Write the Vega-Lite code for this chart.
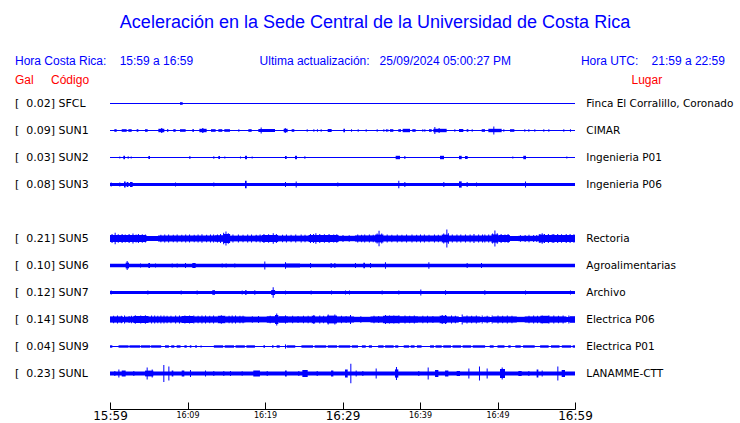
{
  "$schema": "https://vega.github.io/schema/vega-lite/v6.json",
  "width": 465,
  "height": 297,
  "autosize": {"type": "none"},
  "padding": {"left": 110, "top": 90, "right": 165, "bottom": 36},
  "background": "white",
  "config": {"view": {"stroke": null}, "font": "DejaVu Sans"},
  "title": {
    "text": "Aceleración en la Sede Central de la Universidad de Costa Rica",
    "font": "Liberation Sans",
    "fontSize": 18,
    "fontWeight": "normal",
    "color": "#0000ff",
    "anchor": "middle",
    "frame": "group",
    "dx": 32.5,
    "baseline": "alphabetic",
    "offset": 9
  },
  "datasets": {
    "stations": [
      {"sta": "SFCL", "peak": 0.02, "lugar": "Finca El Corralillo, Coronado"},
      {"sta": "SUN1", "peak": 0.09, "lugar": "CIMAR"},
      {"sta": "SUN2", "peak": 0.03, "lugar": "Ingenieria P01"},
      {"sta": "SUN3", "peak": 0.08, "lugar": "Ingenieria P06"},
      {"sta": "SUN5", "peak": 0.21, "lugar": "Rectoria"},
      {"sta": "SUN6", "peak": 0.10, "lugar": "Agroalimentarias"},
      {"sta": "SUN7", "peak": 0.12, "lugar": "Archivo"},
      {"sta": "SUN8", "peak": 0.14, "lugar": "Electrica P06"},
      {"sta": "SUN9", "peak": 0.04, "lugar": "Electrica P01"},
      {"sta": "SUNL", "peak": 0.23, "lugar": "LANAMME-CTT"}
    ],
    "env": [
      {"sta": "SFCL", "start": 0, "end": 60, "amp": 0},
      {"sta": "SFCL", "start": 9.03, "end": 9.38, "amp": 0.02},

      {"sta": "SUN1", "start": 0, "end": 60, "amp": 0},
      {"sta": "SUN1", "start": 0.56, "end": 0.86, "amp": 0.02},
      {"sta": "SUN1", "start": 1.51, "end": 2.15, "amp": 0.02},
      {"sta": "SUN1", "start": 2.37, "end": 2.80, "amp": 0.02},
      {"sta": "SUN1", "start": 3.44, "end": 3.66, "amp": 0.02},
      {"sta": "SUN1", "start": 4.52, "end": 4.86, "amp": 0.02},
      {"sta": "SUN1", "start": 6.24, "end": 7.01, "amp": 0.03},
      {"sta": "SUN1", "start": 6.6, "end": 6.75, "amp": 0.05},
      {"sta": "SUN1", "start": 7.35, "end": 7.53, "amp": 0.02},
      {"sta": "SUN1", "start": 8.17, "end": 8.47, "amp": 0.02},
      {"sta": "SUN1", "start": 9.03, "end": 9.76, "amp": 0.02},
      {"sta": "SUN1", "start": 10.62, "end": 10.84, "amp": 0.02},
      {"sta": "SUN1", "start": 11.53, "end": 12.47, "amp": 0.03},
      {"sta": "SUN1", "start": 11.9, "end": 12.05, "amp": 0.05},
      {"sta": "SUN1", "start": 13.03, "end": 13.63, "amp": 0.02},
      {"sta": "SUN1", "start": 13.98, "end": 14.49, "amp": 0.02},
      {"sta": "SUN1", "start": 14.75, "end": 15.48, "amp": 0.02},
      {"sta": "SUN1", "start": 16.56, "end": 16.69, "amp": 0.02},
      {"sta": "SUN1", "start": 17.85, "end": 18.28, "amp": 0.02},
      {"sta": "SUN1", "start": 19.14, "end": 21.29, "amp": 0.025},
      {"sta": "SUN1", "start": 19.44, "end": 19.57, "amp": 0.06},
      {"sta": "SUN1", "start": 22.41, "end": 22.92, "amp": 0.03},
      {"sta": "SUN1", "start": 22.55, "end": 22.68, "amp": 0.05},
      {"sta": "SUN1", "start": 23.44, "end": 23.78, "amp": 0.02},
      {"sta": "SUN1", "start": 25.38, "end": 25.51, "amp": 0.02},
      {"sta": "SUN1", "start": 26.24, "end": 26.37, "amp": 0.02},
      {"sta": "SUN1", "start": 26.7, "end": 26.83, "amp": 0.02},
      {"sta": "SUN1", "start": 27.18, "end": 27.31, "amp": 0.02},
      {"sta": "SUN1", "start": 28.09, "end": 28.60, "amp": 0.025},
      {"sta": "SUN1", "start": 30.11, "end": 30.32, "amp": 0.03},
      {"sta": "SUN1", "start": 31.10, "end": 31.23, "amp": 0.02},
      {"sta": "SUN1", "start": 31.96, "end": 32.09, "amp": 0.02},
      {"sta": "SUN1", "start": 32.99, "end": 33.12, "amp": 0.02},
      {"sta": "SUN1", "start": 34.41, "end": 34.54, "amp": 0.02},
      {"sta": "SUN1", "start": 35.27, "end": 35.40, "amp": 0.02},
      {"sta": "SUN1", "start": 35.6, "end": 35.73, "amp": 0.02},
      {"sta": "SUN1", "start": 35.78, "end": 35.91, "amp": 0.02},
      {"sta": "SUN1", "start": 36.13, "end": 36.56, "amp": 0.02},
      {"sta": "SUN1", "start": 37.20, "end": 37.55, "amp": 0.02},
      {"sta": "SUN1", "start": 37.76, "end": 38.71, "amp": 0.03},
      {"sta": "SUN1", "start": 39.01, "end": 39.44, "amp": 0.02},
      {"sta": "SUN1", "start": 40.30, "end": 40.43, "amp": 0.02},
      {"sta": "SUN1", "start": 40.56, "end": 40.69, "amp": 0.02},
      {"sta": "SUN1", "start": 41.16, "end": 41.51, "amp": 0.02},
      {"sta": "SUN1", "start": 41.72, "end": 43.44, "amp": 0.03},
      {"sta": "SUN1", "start": 41.85, "end": 41.98, "amp": 0.075},
      {"sta": "SUN1", "start": 42.4, "end": 42.53, "amp": 0.05},
      {"sta": "SUN1", "start": 44.43, "end": 44.56, "amp": 0.02},
      {"sta": "SUN1", "start": 45.03, "end": 45.59, "amp": 0.025},
      {"sta": "SUN1", "start": 46.02, "end": 46.24, "amp": 0.02},
      {"sta": "SUN1", "start": 46.67, "end": 46.80, "amp": 0.02},
      {"sta": "SUN1", "start": 47.96, "end": 48.39, "amp": 0.02},
      {"sta": "SUN1", "start": 48.82, "end": 50.54, "amp": 0.03},
      {"sta": "SUN1", "start": 49.46, "end": 49.59, "amp": 0.09},
      {"sta": "SUN1", "start": 50.75, "end": 50.88, "amp": 0.02},
      {"sta": "SUN1", "start": 51.61, "end": 52.17, "amp": 0.02},
      {"sta": "SUN1", "start": 53.46, "end": 53.59, "amp": 0.02},
      {"sta": "SUN1", "start": 53.98, "end": 54.11, "amp": 0.02},
      {"sta": "SUN1", "start": 54.75, "end": 54.88, "amp": 0.02},
      {"sta": "SUN1", "start": 55.91, "end": 56.04, "amp": 0.02},
      {"sta": "SUN1", "start": 56.56, "end": 56.69, "amp": 0.02},
      {"sta": "SUN1", "start": 58.49, "end": 58.62, "amp": 0.02},
      {"sta": "SUN1", "start": 59.35, "end": 59.48, "amp": 0.02},

      {"sta": "SUN2", "start": 0, "end": 60, "amp": 0},
      {"sta": "SUN2", "start": 1.20, "end": 1.33, "amp": 0.015},
      {"sta": "SUN2", "start": 1.72, "end": 1.94, "amp": 0.03},
      {"sta": "SUN2", "start": 2.28, "end": 2.41, "amp": 0.02},
      {"sta": "SUN2", "start": 2.67, "end": 2.80, "amp": 0.015},
      {"sta": "SUN2", "start": 4.95, "end": 5.16, "amp": 0.025},
      {"sta": "SUN2", "start": 10.24, "end": 10.37, "amp": 0.025},
      {"sta": "SUN2", "start": 13.33, "end": 13.46, "amp": 0.02},
      {"sta": "SUN2", "start": 13.98, "end": 14.19, "amp": 0.025},
      {"sta": "SUN2", "start": 14.75, "end": 14.88, "amp": 0.015},
      {"sta": "SUN2", "start": 16.77, "end": 16.90, "amp": 0.015},
      {"sta": "SUN2", "start": 17.42, "end": 17.68, "amp": 0.03},
      {"sta": "SUN2", "start": 18.28, "end": 18.41, "amp": 0.015},
      {"sta": "SUN2", "start": 22.58, "end": 22.80, "amp": 0.025},
      {"sta": "SUN2", "start": 23.87, "end": 24.13, "amp": 0.03},
      {"sta": "SUN2", "start": 25.08, "end": 25.21, "amp": 0.02},
      {"sta": "SUN2", "start": 36.86, "end": 37.42, "amp": 0.03},
      {"sta": "SUN2", "start": 37.98, "end": 38.11, "amp": 0.025},
      {"sta": "SUN2", "start": 42.58, "end": 43.10, "amp": 0.03},
      {"sta": "SUN2", "start": 45.03, "end": 45.38, "amp": 0.03},
      {"sta": "SUN2", "start": 45.81, "end": 46.15, "amp": 0.025},
      {"sta": "SUN2", "start": 51.91, "end": 52.04, "amp": 0.015},
      {"sta": "SUN2", "start": 53.33, "end": 53.68, "amp": 0.03},
      {"sta": "SUN2", "start": 58.88, "end": 59.01, "amp": 0.015},

      {"sta": "SUN3", "start": 0, "end": 60, "amp": 0.025},
      {"sta": "SUN3", "start": 0.09, "end": 0.22, "amp": 0.04},
      {"sta": "SUN3", "start": 1.20, "end": 1.33, "amp": 0.04},
      {"sta": "SUN3", "start": 1.81, "end": 2.02, "amp": 0.065},
      {"sta": "SUN3", "start": 2.15, "end": 2.37, "amp": 0.05},
      {"sta": "SUN3", "start": 2.58, "end": 2.92, "amp": 0.05},
      {"sta": "SUN3", "start": 8.39, "end": 8.52, "amp": 0.04},
      {"sta": "SUN3", "start": 13.33, "end": 13.46, "amp": 0.04},
      {"sta": "SUN3", "start": 17.42, "end": 17.63, "amp": 0.08},
      {"sta": "SUN3", "start": 22.58, "end": 22.71, "amp": 0.05},
      {"sta": "SUN3", "start": 23.96, "end": 24.09, "amp": 0.065},
      {"sta": "SUN3", "start": 29.33, "end": 29.46, "amp": 0.04},
      {"sta": "SUN3", "start": 37.20, "end": 37.33, "amp": 0.08},
      {"sta": "SUN3", "start": 37.98, "end": 38.11, "amp": 0.05},
      {"sta": "SUN3", "start": 43.01, "end": 43.14, "amp": 0.05},
      {"sta": "SUN3", "start": 45.03, "end": 45.38, "amp": 0.065},
      {"sta": "SUN3", "start": 46.02, "end": 46.15, "amp": 0.05},
      {"sta": "SUN3", "start": 47.23, "end": 47.36, "amp": 0.04},
      {"sta": "SUN3", "start": 53.55, "end": 53.68, "amp": 0.065},

      {"sta": "SUN5", "start": 0, "end": 60, "amp": 0.05},
      {"sta": "SUN5", "start": 0, "end": 4.7, "amp": 0.075},
      {"sta": "SUN5", "start": 6.2, "end": 13.5, "amp": 0.06},
      {"sta": "SUN5", "start": 13.5, "end": 14.6, "amp": 0.07},
      {"sta": "SUN5", "start": 14.6, "end": 15.5, "amp": 0.1},
      {"sta": "SUN5", "start": 15.5, "end": 19.6, "amp": 0.06},
      {"sta": "SUN5", "start": 19.6, "end": 21.7, "amp": 0.075},
      {"sta": "SUN5", "start": 21.7, "end": 25.6, "amp": 0.06},
      {"sta": "SUN5", "start": 25.6, "end": 29.5, "amp": 0.075},
      {"sta": "SUN5", "start": 29.5, "end": 31.6, "amp": 0.055},
      {"sta": "SUN5", "start": 31.6, "end": 34.2, "amp": 0.065},
      {"sta": "SUN5", "start": 34.2, "end": 35.3, "amp": 0.085},
      {"sta": "SUN5", "start": 35.3, "end": 42.8, "amp": 0.06},
      {"sta": "SUN5", "start": 42.8, "end": 43.7, "amp": 0.085},
      {"sta": "SUN5", "start": 43.7, "end": 49.2, "amp": 0.065},
      {"sta": "SUN5", "start": 49.2, "end": 50.1, "amp": 0.09},
      {"sta": "SUN5", "start": 50.1, "end": 51.6, "amp": 0.075},
      {"sta": "SUN5", "start": 52.7, "end": 55.3, "amp": 0.055},
      {"sta": "SUN5", "start": 55.3, "end": 56.1, "amp": 0.085},
      {"sta": "SUN5", "start": 56.1, "end": 60, "amp": 0.075},
      {"sta": "SUN5", "start": 0.2, "end": 0.33, "amp": 0.1},
      {"sta": "SUN5", "start": 0.6, "end": 0.73, "amp": 0.13},
      {"sta": "SUN5", "start": 1.0, "end": 1.13, "amp": 0.095},
      {"sta": "SUN5", "start": 1.5, "end": 1.63, "amp": 0.1},
      {"sta": "SUN5", "start": 1.9, "end": 2.03, "amp": 0.09},
      {"sta": "SUN5", "start": 2.4, "end": 2.53, "amp": 0.1},
      {"sta": "SUN5", "start": 2.9, "end": 3.03, "amp": 0.11},
      {"sta": "SUN5", "start": 3.3, "end": 3.43, "amp": 0.09},
      {"sta": "SUN5", "start": 3.6, "end": 3.73, "amp": 0.1},
      {"sta": "SUN5", "start": 4.1, "end": 4.23, "amp": 0.095},
      {"sta": "SUN5", "start": 4.5, "end": 4.63, "amp": 0.09},
      {"sta": "SUN5", "start": 6.5, "end": 6.63, "amp": 0.08},
      {"sta": "SUN5", "start": 7.0, "end": 7.13, "amp": 0.085},
      {"sta": "SUN5", "start": 7.5, "end": 7.63, "amp": 0.09},
      {"sta": "SUN5", "start": 8.1, "end": 8.23, "amp": 0.08},
      {"sta": "SUN5", "start": 8.6, "end": 8.73, "amp": 0.09},
      {"sta": "SUN5", "start": 9.2, "end": 9.33, "amp": 0.08},
      {"sta": "SUN5", "start": 9.7, "end": 9.83, "amp": 0.085},
      {"sta": "SUN5", "start": 10.2, "end": 10.33, "amp": 0.09},
      {"sta": "SUN5", "start": 10.8, "end": 10.93, "amp": 0.08},
      {"sta": "SUN5", "start": 11.3, "end": 11.43, "amp": 0.085},
      {"sta": "SUN5", "start": 11.8, "end": 11.93, "amp": 0.095},
      {"sta": "SUN5", "start": 12.4, "end": 12.53, "amp": 0.08},
      {"sta": "SUN5", "start": 12.9, "end": 13.03, "amp": 0.09},
      {"sta": "SUN5", "start": 13.3, "end": 13.43, "amp": 0.085},
      {"sta": "SUN5", "start": 13.8, "end": 13.93, "amp": 0.09},
      {"sta": "SUN5", "start": 14.2, "end": 14.33, "amp": 0.1},
      {"sta": "SUN5", "start": 14.6, "end": 14.73, "amp": 0.13},
      {"sta": "SUN5", "start": 14.9, "end": 15.03, "amp": 0.16},
      {"sta": "SUN5", "start": 15.2, "end": 15.33, "amp": 0.12},
      {"sta": "SUN5", "start": 15.8, "end": 15.93, "amp": 0.085},
      {"sta": "SUN5", "start": 16.5, "end": 16.63, "amp": 0.09},
      {"sta": "SUN5", "start": 17.1, "end": 17.23, "amp": 0.08},
      {"sta": "SUN5", "start": 17.7, "end": 17.83, "amp": 0.085},
      {"sta": "SUN5", "start": 18.2, "end": 18.33, "amp": 0.085},
      {"sta": "SUN5", "start": 18.8, "end": 18.93, "amp": 0.08},
      {"sta": "SUN5", "start": 19.3, "end": 19.43, "amp": 0.085},
      {"sta": "SUN5", "start": 19.8, "end": 19.93, "amp": 0.1},
      {"sta": "SUN5", "start": 20.4, "end": 20.53, "amp": 0.095},
      {"sta": "SUN5", "start": 21.0, "end": 21.13, "amp": 0.12},
      {"sta": "SUN5", "start": 21.4, "end": 21.53, "amp": 0.1},
      {"sta": "SUN5", "start": 22.2, "end": 22.33, "amp": 0.08},
      {"sta": "SUN5", "start": 22.7, "end": 22.83, "amp": 0.09},
      {"sta": "SUN5", "start": 23.3, "end": 23.43, "amp": 0.08},
      {"sta": "SUN5", "start": 23.9, "end": 24.03, "amp": 0.085},
      {"sta": "SUN5", "start": 24.6, "end": 24.73, "amp": 0.085},
      {"sta": "SUN5", "start": 25.1, "end": 25.23, "amp": 0.08},
      {"sta": "SUN5", "start": 25.8, "end": 25.93, "amp": 0.1},
      {"sta": "SUN5", "start": 26.2, "end": 26.33, "amp": 0.1},
      {"sta": "SUN5", "start": 26.5, "end": 26.63, "amp": 0.12},
      {"sta": "SUN5", "start": 27.0, "end": 27.13, "amp": 0.1},
      {"sta": "SUN5", "start": 27.6, "end": 27.73, "amp": 0.095},
      {"sta": "SUN5", "start": 28.2, "end": 28.33, "amp": 0.1},
      {"sta": "SUN5", "start": 28.8, "end": 28.93, "amp": 0.09},
      {"sta": "SUN5", "start": 29.2, "end": 29.33, "amp": 0.095},
      {"sta": "SUN5", "start": 30.0, "end": 30.13, "amp": 0.075},
      {"sta": "SUN5", "start": 30.8, "end": 30.93, "amp": 0.07},
      {"sta": "SUN5", "start": 31.9, "end": 32.03, "amp": 0.085},
      {"sta": "SUN5", "start": 32.4, "end": 32.53, "amp": 0.08},
      {"sta": "SUN5", "start": 32.8, "end": 32.93, "amp": 0.09},
      {"sta": "SUN5", "start": 33.4, "end": 33.53, "amp": 0.085},
      {"sta": "SUN5", "start": 33.9, "end": 34.03, "amp": 0.08},
      {"sta": "SUN5", "start": 34.4, "end": 34.53, "amp": 0.11},
      {"sta": "SUN5", "start": 34.65, "end": 34.78, "amp": 0.18},
      {"sta": "SUN5", "start": 35.0, "end": 35.13, "amp": 0.11},
      {"sta": "SUN5", "start": 35.7, "end": 35.83, "amp": 0.085},
      {"sta": "SUN5", "start": 36.3, "end": 36.43, "amp": 0.08},
      {"sta": "SUN5", "start": 37.0, "end": 37.13, "amp": 0.09},
      {"sta": "SUN5", "start": 37.6, "end": 37.73, "amp": 0.08},
      {"sta": "SUN5", "start": 38.2, "end": 38.33, "amp": 0.085},
      {"sta": "SUN5", "start": 38.9, "end": 39.03, "amp": 0.085},
      {"sta": "SUN5", "start": 39.5, "end": 39.63, "amp": 0.08},
      {"sta": "SUN5", "start": 40.0, "end": 40.13, "amp": 0.085},
      {"sta": "SUN5", "start": 40.5, "end": 40.63, "amp": 0.09},
      {"sta": "SUN5", "start": 41.1, "end": 41.23, "amp": 0.08},
      {"sta": "SUN5", "start": 41.8, "end": 41.93, "amp": 0.085},
      {"sta": "SUN5", "start": 42.3, "end": 42.43, "amp": 0.08},
      {"sta": "SUN5", "start": 43.0, "end": 43.13, "amp": 0.11},
      {"sta": "SUN5", "start": 43.4, "end": 43.53, "amp": 0.21},
      {"sta": "SUN5", "start": 43.6, "end": 43.73, "amp": 0.12},
      {"sta": "SUN5", "start": 44.1, "end": 44.23, "amp": 0.09},
      {"sta": "SUN5", "start": 44.7, "end": 44.83, "amp": 0.085},
      {"sta": "SUN5", "start": 45.2, "end": 45.33, "amp": 0.09},
      {"sta": "SUN5", "start": 45.8, "end": 45.93, "amp": 0.085},
      {"sta": "SUN5", "start": 46.4, "end": 46.53, "amp": 0.09},
      {"sta": "SUN5", "start": 46.9, "end": 47.03, "amp": 0.1},
      {"sta": "SUN5", "start": 47.5, "end": 47.63, "amp": 0.085},
      {"sta": "SUN5", "start": 48.0, "end": 48.13, "amp": 0.09},
      {"sta": "SUN5", "start": 48.3, "end": 48.43, "amp": 0.09},
      {"sta": "SUN5", "start": 48.8, "end": 48.93, "amp": 0.085},
      {"sta": "SUN5", "start": 49.3, "end": 49.43, "amp": 0.11},
      {"sta": "SUN5", "start": 49.6, "end": 49.73, "amp": 0.19},
      {"sta": "SUN5", "start": 49.9, "end": 50.03, "amp": 0.12},
      {"sta": "SUN5", "start": 50.4, "end": 50.53, "amp": 0.1},
      {"sta": "SUN5", "start": 50.9, "end": 51.03, "amp": 0.09},
      {"sta": "SUN5", "start": 51.3, "end": 51.43, "amp": 0.1},
      {"sta": "SUN5", "start": 52.9, "end": 53.03, "amp": 0.07},
      {"sta": "SUN5", "start": 53.5, "end": 53.63, "amp": 0.075},
      {"sta": "SUN5", "start": 54.0, "end": 54.13, "amp": 0.08},
      {"sta": "SUN5", "start": 54.6, "end": 54.73, "amp": 0.075},
      {"sta": "SUN5", "start": 55.0, "end": 55.13, "amp": 0.075},
      {"sta": "SUN5", "start": 55.4, "end": 55.53, "amp": 0.1},
      {"sta": "SUN5", "start": 55.7, "end": 55.83, "amp": 0.12},
      {"sta": "SUN5", "start": 56.0, "end": 56.13, "amp": 0.1},
      {"sta": "SUN5", "start": 56.5, "end": 56.63, "amp": 0.1},
      {"sta": "SUN5", "start": 57.0, "end": 57.13, "amp": 0.095},
      {"sta": "SUN5", "start": 57.2, "end": 57.33, "amp": 0.1},
      {"sta": "SUN5", "start": 57.7, "end": 57.83, "amp": 0.1},
      {"sta": "SUN5", "start": 58.2, "end": 58.33, "amp": 0.095},
      {"sta": "SUN5", "start": 58.8, "end": 58.93, "amp": 0.1},
      {"sta": "SUN5", "start": 59.3, "end": 59.43, "amp": 0.1},
      {"sta": "SUN5", "start": 59.8, "end": 59.93, "amp": 0.095},

      {"sta": "SUN6", "start": 0, "end": 60, "amp": 0.03},
      {"sta": "SUN6", "start": 2.02, "end": 2.45, "amp": 0.06},
      {"sta": "SUN6", "start": 2.15, "end": 2.28, "amp": 0.1},
      {"sta": "SUN6", "start": 3.87, "end": 4.0, "amp": 0.04},
      {"sta": "SUN6", "start": 4.95, "end": 5.16, "amp": 0.05},
      {"sta": "SUN6", "start": 5.81, "end": 5.94, "amp": 0.04},
      {"sta": "SUN6", "start": 7.96, "end": 8.09, "amp": 0.04},
      {"sta": "SUN6", "start": 8.60, "end": 8.73, "amp": 0.04},
      {"sta": "SUN6", "start": 9.68, "end": 9.81, "amp": 0.05},
      {"sta": "SUN6", "start": 10.62, "end": 11.05, "amp": 0.05},
      {"sta": "SUN6", "start": 14.41, "end": 14.54, "amp": 0.04},
      {"sta": "SUN6", "start": 14.92, "end": 15.05, "amp": 0.04},
      {"sta": "SUN6", "start": 16.04, "end": 16.17, "amp": 0.04},
      {"sta": "SUN6", "start": 19.91, "end": 20.04, "amp": 0.085},
      {"sta": "SUN6", "start": 22.58, "end": 22.71, "amp": 0.07},
      {"sta": "SUN6", "start": 22.71, "end": 24.52, "amp": 0.035},
      {"sta": "SUN6", "start": 25.81, "end": 25.94, "amp": 0.05},
      {"sta": "SUN6", "start": 28.47, "end": 28.60, "amp": 0.05},
      {"sta": "SUN6", "start": 28.95, "end": 29.08, "amp": 0.05},
      {"sta": "SUN6", "start": 31.61, "end": 31.74, "amp": 0.05},
      {"sta": "SUN6", "start": 32.69, "end": 32.90, "amp": 0.055},
      {"sta": "SUN6", "start": 33.55, "end": 33.68, "amp": 0.05},
      {"sta": "SUN6", "start": 35.48, "end": 35.61, "amp": 0.07},
      {"sta": "SUN6", "start": 41.08, "end": 41.21, "amp": 0.07},
      {"sta": "SUN6", "start": 46.02, "end": 46.15, "amp": 0.05},
      {"sta": "SUN6", "start": 47.87, "end": 48.0, "amp": 0.05},

      {"sta": "SUN7", "start": 0, "end": 60, "amp": 0.025},
      {"sta": "SUN7", "start": 0.09, "end": 0.22, "amp": 0.035},
      {"sta": "SUN7", "start": 4.82, "end": 4.95, "amp": 0.035},
      {"sta": "SUN7", "start": 9.12, "end": 9.25, "amp": 0.035},
      {"sta": "SUN7", "start": 11.18, "end": 11.31, "amp": 0.035},
      {"sta": "SUN7", "start": 13.20, "end": 13.55, "amp": 0.045},
      {"sta": "SUN7", "start": 16.99, "end": 17.12, "amp": 0.035},
      {"sta": "SUN7", "start": 17.42, "end": 17.63, "amp": 0.045},
      {"sta": "SUN7", "start": 18.62, "end": 18.75, "amp": 0.045},
      {"sta": "SUN7", "start": 20.8, "end": 21.3, "amp": 0.05},
      {"sta": "SUN7", "start": 20.99, "end": 21.12, "amp": 0.12},
      {"sta": "SUN7", "start": 22.58, "end": 22.71, "amp": 0.035},
      {"sta": "SUN7", "start": 25.89, "end": 26.02, "amp": 0.035},
      {"sta": "SUN7", "start": 28.52, "end": 28.65, "amp": 0.035},
      {"sta": "SUN7", "start": 30.32, "end": 30.45, "amp": 0.035},
      {"sta": "SUN7", "start": 30.84, "end": 30.97, "amp": 0.035},
      {"sta": "SUN7", "start": 35.05, "end": 35.18, "amp": 0.035},
      {"sta": "SUN7", "start": 37.20, "end": 37.33, "amp": 0.035},
      {"sta": "SUN7", "start": 40.04, "end": 40.17, "amp": 0.06},
      {"sta": "SUN7", "start": 43.23, "end": 43.36, "amp": 0.045},
      {"sta": "SUN7", "start": 48.30, "end": 48.43, "amp": 0.045},
      {"sta": "SUN7", "start": 53.55, "end": 53.68, "amp": 0.035},
      {"sta": "SUN7", "start": 59.35, "end": 59.48, "amp": 0.035},

      {"sta": "SUN8", "start": 0, "end": 60, "amp": 0.05},
      {"sta": "SUN8", "start": 0, "end": 1.7, "amp": 0.065},
      {"sta": "SUN8", "start": 1.81, "end": 1.94, "amp": 0.09},
      {"sta": "SUN8", "start": 1.9, "end": 3.0, "amp": 0.06},
      {"sta": "SUN8", "start": 3.0, "end": 5.0, "amp": 0.075},
      {"sta": "SUN8", "start": 3.2, "end": 3.33, "amp": 0.095},
      {"sta": "SUN8", "start": 3.9, "end": 4.03, "amp": 0.09},
      {"sta": "SUN8", "start": 4.5, "end": 4.63, "amp": 0.095},
      {"sta": "SUN8", "start": 5.0, "end": 9.2, "amp": 0.065},
      {"sta": "SUN8", "start": 5.7, "end": 5.83, "amp": 0.085},
      {"sta": "SUN8", "start": 6.5, "end": 6.63, "amp": 0.085},
      {"sta": "SUN8", "start": 7.3, "end": 7.43, "amp": 0.08},
      {"sta": "SUN8", "start": 8.4, "end": 8.53, "amp": 0.09},
      {"sta": "SUN8", "start": 9.2, "end": 10.8, "amp": 0.075},
      {"sta": "SUN8", "start": 9.6, "end": 9.73, "amp": 0.09},
      {"sta": "SUN8", "start": 10.75, "end": 10.88, "amp": 0.09},
      {"sta": "SUN8", "start": 10.8, "end": 13.9, "amp": 0.065},
      {"sta": "SUN8", "start": 12.26, "end": 12.39, "amp": 0.09},
      {"sta": "SUN8", "start": 13.9, "end": 14.9, "amp": 0.08},
      {"sta": "SUN8", "start": 14.3, "end": 14.43, "amp": 0.095},
      {"sta": "SUN8", "start": 14.9, "end": 17.5, "amp": 0.065},
      {"sta": "SUN8", "start": 16.13, "end": 16.26, "amp": 0.09},
      {"sta": "SUN8", "start": 17.5, "end": 20.2, "amp": 0.06},
      {"sta": "SUN8", "start": 20.2, "end": 21.3, "amp": 0.07},
      {"sta": "SUN8", "start": 21.29, "end": 21.72, "amp": 0.1},
      {"sta": "SUN8", "start": 21.45, "end": 21.58, "amp": 0.14},
      {"sta": "SUN8", "start": 21.72, "end": 23.0, "amp": 0.07},
      {"sta": "SUN8", "start": 22.58, "end": 22.71, "amp": 0.09},
      {"sta": "SUN8", "start": 23.0, "end": 26.0, "amp": 0.065},
      {"sta": "SUN8", "start": 26.0, "end": 26.5, "amp": 0.08},
      {"sta": "SUN8", "start": 26.24, "end": 26.37, "amp": 0.1},
      {"sta": "SUN8", "start": 26.5, "end": 28.0, "amp": 0.065},
      {"sta": "SUN8", "start": 28.0, "end": 29.3, "amp": 0.085},
      {"sta": "SUN8", "start": 28.09, "end": 28.22, "amp": 0.11},
      {"sta": "SUN8", "start": 28.95, "end": 29.08, "amp": 0.11},
      {"sta": "SUN8", "start": 29.3, "end": 31.5, "amp": 0.065},
      {"sta": "SUN8", "start": 30.97, "end": 31.1, "amp": 0.1},
      {"sta": "SUN8", "start": 31.5, "end": 33.6, "amp": 0.055},
      {"sta": "SUN8", "start": 33.6, "end": 35.2, "amp": 0.065},
      {"sta": "SUN8", "start": 35.2, "end": 37.4, "amp": 0.08},
      {"sta": "SUN8", "start": 35.48, "end": 35.61, "amp": 0.1},
      {"sta": "SUN8", "start": 36.56, "end": 36.69, "amp": 0.09},
      {"sta": "SUN8", "start": 37.2, "end": 37.33, "amp": 0.09},
      {"sta": "SUN8", "start": 37.4, "end": 39.8, "amp": 0.07},
      {"sta": "SUN8", "start": 39.8, "end": 42.5, "amp": 0.065},
      {"sta": "SUN8", "start": 42.5, "end": 43.5, "amp": 0.08},
      {"sta": "SUN8", "start": 42.8, "end": 42.93, "amp": 0.1},
      {"sta": "SUN8", "start": 43.23, "end": 43.36, "amp": 0.1},
      {"sta": "SUN8", "start": 43.5, "end": 45.0, "amp": 0.065},
      {"sta": "SUN8", "start": 45.38, "end": 45.51, "amp": 0.11},
      {"sta": "SUN8", "start": 45.5, "end": 47.8, "amp": 0.065},
      {"sta": "SUN8", "start": 47.96, "end": 48.09, "amp": 0.09},
      {"sta": "SUN8", "start": 48.2, "end": 49.0, "amp": 0.06},
      {"sta": "SUN8", "start": 49.25, "end": 49.38, "amp": 0.09},
      {"sta": "SUN8", "start": 49.4, "end": 52.5, "amp": 0.065},
      {"sta": "SUN8", "start": 52.5, "end": 53.5, "amp": 0.055},
      {"sta": "SUN8", "start": 53.5, "end": 55.5, "amp": 0.065},
      {"sta": "SUN8", "start": 55.5, "end": 56.7, "amp": 0.08},
      {"sta": "SUN8", "start": 55.7, "end": 55.83, "amp": 0.09},
      {"sta": "SUN8", "start": 56.56, "end": 56.69, "amp": 0.09},
      {"sta": "SUN8", "start": 56.7, "end": 58.9, "amp": 0.065},
      {"sta": "SUN8", "start": 59.14, "end": 59.27, "amp": 0.09},
      {"sta": "SUN8", "start": 59.3, "end": 60, "amp": 0.07},
      {"sta": "SUN8", "start": 0.4, "end": 0.53, "amp": 0.08},
      {"sta": "SUN8", "start": 0.9, "end": 1.03, "amp": 0.085},
      {"sta": "SUN8", "start": 1.4, "end": 1.53, "amp": 0.08},
      {"sta": "SUN8", "start": 2.4, "end": 2.53, "amp": 0.075},
      {"sta": "SUN8", "start": 2.7, "end": 2.83, "amp": 0.08},
      {"sta": "SUN8", "start": 5.3, "end": 5.43, "amp": 0.085},
      {"sta": "SUN8", "start": 6.1, "end": 6.23, "amp": 0.08},
      {"sta": "SUN8", "start": 6.9, "end": 7.03, "amp": 0.085},
      {"sta": "SUN8", "start": 7.8, "end": 7.93, "amp": 0.08},
      {"sta": "SUN8", "start": 8.9, "end": 9.03, "amp": 0.085},
      {"sta": "SUN8", "start": 10.2, "end": 10.33, "amp": 0.085},
      {"sta": "SUN8", "start": 11.3, "end": 11.43, "amp": 0.08},
      {"sta": "SUN8", "start": 11.8, "end": 11.93, "amp": 0.085},
      {"sta": "SUN8", "start": 12.8, "end": 12.93, "amp": 0.08},
      {"sta": "SUN8", "start": 13.3, "end": 13.43, "amp": 0.085},
      {"sta": "SUN8", "start": 15.3, "end": 15.43, "amp": 0.08},
      {"sta": "SUN8", "start": 15.7, "end": 15.83, "amp": 0.085},
      {"sta": "SUN8", "start": 16.7, "end": 16.83, "amp": 0.08},
      {"sta": "SUN8", "start": 17.1, "end": 17.23, "amp": 0.08},
      {"sta": "SUN8", "start": 18.3, "end": 18.43, "amp": 0.07},
      {"sta": "SUN8", "start": 19.1, "end": 19.23, "amp": 0.075},
      {"sta": "SUN8", "start": 20.6, "end": 20.73, "amp": 0.08},
      {"sta": "SUN8", "start": 23.5, "end": 23.63, "amp": 0.08},
      {"sta": "SUN8", "start": 24.2, "end": 24.33, "amp": 0.075},
      {"sta": "SUN8", "start": 24.9, "end": 25.03, "amp": 0.08},
      {"sta": "SUN8", "start": 25.5, "end": 25.63, "amp": 0.08},
      {"sta": "SUN8", "start": 27.0, "end": 27.13, "amp": 0.085},
      {"sta": "SUN8", "start": 27.5, "end": 27.63, "amp": 0.08},
      {"sta": "SUN8", "start": 29.8, "end": 29.93, "amp": 0.08},
      {"sta": "SUN8", "start": 30.4, "end": 30.53, "amp": 0.075},
      {"sta": "SUN8", "start": 32.3, "end": 32.43, "amp": 0.07},
      {"sta": "SUN8", "start": 34.0, "end": 34.13, "amp": 0.08},
      {"sta": "SUN8", "start": 34.6, "end": 34.73, "amp": 0.075},
      {"sta": "SUN8", "start": 36.0, "end": 36.13, "amp": 0.09},
      {"sta": "SUN8", "start": 38.0, "end": 38.13, "amp": 0.085},
      {"sta": "SUN8", "start": 38.6, "end": 38.73, "amp": 0.08},
      {"sta": "SUN8", "start": 39.2, "end": 39.33, "amp": 0.085},
      {"sta": "SUN8", "start": 40.3, "end": 40.43, "amp": 0.08},
      {"sta": "SUN8", "start": 40.9, "end": 41.03, "amp": 0.08},
      {"sta": "SUN8", "start": 41.6, "end": 41.73, "amp": 0.075},
      {"sta": "SUN8", "start": 44.0, "end": 44.13, "amp": 0.085},
      {"sta": "SUN8", "start": 44.5, "end": 44.63, "amp": 0.08},
      {"sta": "SUN8", "start": 46.0, "end": 46.13, "amp": 0.085},
      {"sta": "SUN8", "start": 46.6, "end": 46.73, "amp": 0.08},
      {"sta": "SUN8", "start": 47.2, "end": 47.33, "amp": 0.085},
      {"sta": "SUN8", "start": 48.6, "end": 48.73, "amp": 0.08},
      {"sta": "SUN8", "start": 50.0, "end": 50.13, "amp": 0.085},
      {"sta": "SUN8", "start": 50.6, "end": 50.73, "amp": 0.08},
      {"sta": "SUN8", "start": 51.2, "end": 51.33, "amp": 0.085},
      {"sta": "SUN8", "start": 51.8, "end": 51.93, "amp": 0.08},
      {"sta": "SUN8", "start": 54.0, "end": 54.13, "amp": 0.08},
      {"sta": "SUN8", "start": 54.6, "end": 54.73, "amp": 0.085},
      {"sta": "SUN8", "start": 55.1, "end": 55.23, "amp": 0.08},
      {"sta": "SUN8", "start": 57.2, "end": 57.33, "amp": 0.085},
      {"sta": "SUN8", "start": 57.8, "end": 57.93, "amp": 0.08},
      {"sta": "SUN8", "start": 58.4, "end": 58.53, "amp": 0.085},

      {"sta": "SUN9", "start": 0, "end": 60, "amp": 0},
      {"sta": "SUN9", "start": 0.0, "end": 0.3, "amp": 0.0175},
      {"sta": "SUN9", "start": 1.1, "end": 2.4, "amp": 0.0175},
      {"sta": "SUN9", "start": 2.5, "end": 3.9, "amp": 0.0175},
      {"sta": "SUN9", "start": 4.0, "end": 5.2, "amp": 0.0175},
      {"sta": "SUN9", "start": 5.3, "end": 6.6, "amp": 0.0175},
      {"sta": "SUN9", "start": 7.1, "end": 7.6, "amp": 0.0175},
      {"sta": "SUN9", "start": 7.9, "end": 8.3, "amp": 0.0175},
      {"sta": "SUN9", "start": 8.6, "end": 9.1, "amp": 0.0175},
      {"sta": "SUN9", "start": 9.6, "end": 9.9, "amp": 0.0175},
      {"sta": "SUN9", "start": 10.3, "end": 10.5, "amp": 0.0175},
      {"sta": "SUN9", "start": 11.0, "end": 11.2, "amp": 0.0175},
      {"sta": "SUN9", "start": 11.7, "end": 11.8, "amp": 0.0175},
      {"sta": "SUN9", "start": 13.4, "end": 14.6, "amp": 0.0175},
      {"sta": "SUN9", "start": 14.8, "end": 16.0, "amp": 0.0175},
      {"sta": "SUN9", "start": 16.2, "end": 17.4, "amp": 0.0175},
      {"sta": "SUN9", "start": 17.6, "end": 18.7, "amp": 0.0175},
      {"sta": "SUN9", "start": 19.8, "end": 20.0, "amp": 0.0175},
      {"sta": "SUN9", "start": 20.9, "end": 21.1, "amp": 0.0175},
      {"sta": "SUN9", "start": 21.5, "end": 21.9, "amp": 0.0175},
      {"sta": "SUN9", "start": 22.58, "end": 22.71, "amp": 0.04},
      {"sta": "SUN9", "start": 22.8, "end": 23.9, "amp": 0.0175},
      {"sta": "SUN9", "start": 24.7, "end": 26.2, "amp": 0.0175},
      {"sta": "SUN9", "start": 26.4, "end": 27.9, "amp": 0.0175},
      {"sta": "SUN9", "start": 28.1, "end": 29.3, "amp": 0.0175},
      {"sta": "SUN9", "start": 29.5, "end": 31.0, "amp": 0.0175},
      {"sta": "SUN9", "start": 31.2, "end": 32.0, "amp": 0.0175},
      {"sta": "SUN9", "start": 32.5, "end": 33.0, "amp": 0.0175},
      {"sta": "SUN9", "start": 33.4, "end": 33.8, "amp": 0.0175},
      {"sta": "SUN9", "start": 34.6, "end": 35.3, "amp": 0.0175},
      {"sta": "SUN9", "start": 35.5, "end": 36.6, "amp": 0.0175},
      {"sta": "SUN9", "start": 36.8, "end": 37.2, "amp": 0.0175},
      {"sta": "SUN9", "start": 37.9, "end": 38.6, "amp": 0.0175},
      {"sta": "SUN9", "start": 38.8, "end": 39.3, "amp": 0.0175},
      {"sta": "SUN9", "start": 39.6, "end": 40.2, "amp": 0.0175},
      {"sta": "SUN9", "start": 41.3, "end": 41.8, "amp": 0.0175},
      {"sta": "SUN9", "start": 42.0, "end": 42.8, "amp": 0.0175},
      {"sta": "SUN9", "start": 43.0, "end": 44.0, "amp": 0.0175},
      {"sta": "SUN9", "start": 44.2, "end": 45.3, "amp": 0.0175},
      {"sta": "SUN9", "start": 45.5, "end": 46.6, "amp": 0.0175},
      {"sta": "SUN9", "start": 46.8, "end": 48.4, "amp": 0.0175},
      {"sta": "SUN9", "start": 49.0, "end": 49.5, "amp": 0.0175},
      {"sta": "SUN9", "start": 50.0, "end": 50.9, "amp": 0.0175},
      {"sta": "SUN9", "start": 51.4, "end": 51.7, "amp": 0.0175},
      {"sta": "SUN9", "start": 52.3, "end": 53.0, "amp": 0.0175},
      {"sta": "SUN9", "start": 53.3, "end": 54.8, "amp": 0.0175},
      {"sta": "SUN9", "start": 55.5, "end": 56.6, "amp": 0.0175},
      {"sta": "SUN9", "start": 56.9, "end": 58.0, "amp": 0.0175},
      {"sta": "SUN9", "start": 58.3, "end": 59.5, "amp": 0.0175},
      {"sta": "SUN9", "start": 59.7, "end": 60, "amp": 0.0175},

      {"sta": "SUNL", "start": 0, "end": 60, "amp": 0.0375},
      {"sta": "SUNL", "start": 0.56, "end": 0.69, "amp": 0.05},
      {"sta": "SUNL", "start": 1.08, "end": 1.21, "amp": 0.0875},
      {"sta": "SUNL", "start": 1.51, "end": 2.02, "amp": 0.0625},
      {"sta": "SUNL", "start": 3.01, "end": 3.14, "amp": 0.05},
      {"sta": "SUNL", "start": 4.52, "end": 5.59, "amp": 0.06},
      {"sta": "SUNL", "start": 4.73, "end": 4.86, "amp": 0.1375},
      {"sta": "SUNL", "start": 5.38, "end": 5.51, "amp": 0.0875},
      {"sta": "SUNL", "start": 6.88, "end": 7.01, "amp": 0.2},
      {"sta": "SUNL", "start": 7.53, "end": 7.66, "amp": 0.1625},
      {"sta": "SUNL", "start": 7.96, "end": 8.17, "amp": 0.0625},
      {"sta": "SUNL", "start": 9.25, "end": 9.59, "amp": 0.0625},
      {"sta": "SUNL", "start": 10.32, "end": 10.45, "amp": 0.075},
      {"sta": "SUNL", "start": 12.26, "end": 12.39, "amp": 0.0625},
      {"sta": "SUNL", "start": 13.33, "end": 13.46, "amp": 0.05},
      {"sta": "SUNL", "start": 14.62, "end": 14.75, "amp": 0.05},
      {"sta": "SUNL", "start": 15.48, "end": 15.61, "amp": 0.05},
      {"sta": "SUNL", "start": 16.99, "end": 17.12, "amp": 0.045},
      {"sta": "SUNL", "start": 18.49, "end": 19.35, "amp": 0.0625},
      {"sta": "SUNL", "start": 20.22, "end": 20.35, "amp": 0.05},
      {"sta": "SUNL", "start": 22.58, "end": 22.80, "amp": 0.0625},
      {"sta": "SUNL", "start": 24.30, "end": 24.43, "amp": 0.05},
      {"sta": "SUNL", "start": 24.82, "end": 25.51, "amp": 0.075},
      {"sta": "SUNL", "start": 26.67, "end": 26.80, "amp": 0.05},
      {"sta": "SUNL", "start": 28.52, "end": 28.82, "amp": 0.0625},
      {"sta": "SUNL", "start": 30.32, "end": 30.67, "amp": 0.0875},
      {"sta": "SUNL", "start": 31.01, "end": 31.14, "amp": 0.23},
      {"sta": "SUNL", "start": 31.70, "end": 31.83, "amp": 0.0625},
      {"sta": "SUNL", "start": 32.56, "end": 32.69, "amp": 0.05},
      {"sta": "SUNL", "start": 34.28, "end": 34.41, "amp": 0.1125},
      {"sta": "SUNL", "start": 36.77, "end": 37.20, "amp": 0.09},
      {"sta": "SUNL", "start": 36.9, "end": 37.03, "amp": 0.15},
      {"sta": "SUNL", "start": 39.78, "end": 39.91, "amp": 0.05},
      {"sta": "SUNL", "start": 40.99, "end": 41.12, "amp": 0.1375},
      {"sta": "SUNL", "start": 41.94, "end": 42.37, "amp": 0.075},
      {"sta": "SUNL", "start": 43.23, "end": 43.66, "amp": 0.0625},
      {"sta": "SUNL", "start": 44.73, "end": 45.16, "amp": 0.05},
      {"sta": "SUNL", "start": 46.24, "end": 46.37, "amp": 0.1125},
      {"sta": "SUNL", "start": 47.61, "end": 47.74, "amp": 0.1625},
      {"sta": "SUNL", "start": 48.60, "end": 48.73, "amp": 0.1125},
      {"sta": "SUNL", "start": 50.32, "end": 50.97, "amp": 0.1},
      {"sta": "SUNL", "start": 50.54, "end": 50.67, "amp": 0.1375},
      {"sta": "SUNL", "start": 52.69, "end": 53.12, "amp": 0.05},
      {"sta": "SUNL", "start": 53.98, "end": 54.11, "amp": 0.05},
      {"sta": "SUNL", "start": 55.05, "end": 55.27, "amp": 0.0875},
      {"sta": "SUNL", "start": 55.70, "end": 55.83, "amp": 0.0625},
      {"sta": "SUNL", "start": 57.72, "end": 57.85, "amp": 0.1625},
      {"sta": "SUNL", "start": 58.28, "end": 58.71, "amp": 0.075}
    ]
  },
  "layer": [
    {
      "data": {"name": "env"},
      "mark": {"type": "bar", "orient": "horizontal", "color": "#0000ff"},
      "encoding": {
        "x": {
          "field": "start",
          "type": "quantitative",
          "scale": {"domain": [0, 60], "nice": false, "zero": false},
          "axis": {
            "title": null,
            "grid": false,
            "values": [0, 5, 10, 15, 20, 25, 30, 35, 40, 45, 50, 55, 60],
            "labelExpr": "datum.value % 10 == 0 ? (floor((959 + datum.value) / 60) + ':' + pad((959 + datum.value) % 60, 2, '0', 'left')) : ''",
            "labelFont": "DejaVu Sans",
            "labelFontSize": {"condition": {"test": "datum.value % 30 == 0", "value": 12}, "value": 8},
            "labelColor": "black",
            "labelBaseline": "middle",
            "labelPadding": 13,
            "labelOverlap": false,
            "labelFlush": false,
            "domainColor": "black",
            "tickColor": "black",
            "tickSize": -7,
            "offset": 22
          }
        },
        "x2": {"field": "end"},
        "y": {
          "field": "sta",
          "type": "nominal",
          "scale": {
            "domain": ["SFCL", "SUN1", "SUN2", "SUN3", "SUN4", "SUN5", "SUN6", "SUN7", "SUN8", "SUN9", "SUNL"],
            "paddingInner": 0,
            "paddingOuter": 0
          },
          "axis": null
        },
        "size": {
          "field": "amp",
          "type": "quantitative",
          "scale": {"domain": [0, 0.25], "range": [1, 21], "zero": false},
          "legend": null
        }
      }
    },
    {
      "data": {"name": "stations"},
      "mark": {
        "type": "text",
        "align": "left",
        "baseline": "middle",
        "font": "DejaVu Sans",
        "fontSize": 11,
        "color": "black",
        "text": {"expr": "'[\u00a0\u00a0' + format(datum.peak, '.2f') + '] ' + datum.sta"}
      },
      "encoding": {
        "x": {"datum": -12.26},
        "y": {"field": "sta", "type": "nominal"}
      }
    },
    {
      "data": {"name": "stations"},
      "mark": {
        "type": "text",
        "align": "left",
        "baseline": "middle",
        "font": "DejaVu Sans",
        "fontSize": 10.5,
        "color": "black"
      },
      "encoding": {
        "x": {"datum": 61.46},
        "y": {"field": "sta", "type": "nominal"},
        "text": {"field": "lugar"}
      }
    },
    {
      "data": {"values": [{"t": "Hora Costa Rica:\u00a0\u00a0\u00a0\u00a015:59 a 16:59"}]},
      "mark": {"type": "text", "align": "left", "baseline": "middle", "dy": -43, "font": "Liberation Sans", "fontSize": 12, "color": "#0000ff"},
      "encoding": {"x": {"datum": -12.26}, "y": {"datum": "SFCL"}, "text": {"field": "t"}}
    },
    {
      "data": {"values": [{"t": "Ultima actualización:\u00a0\u00a0\u00a025/09/2024 05:00:27 PM"}]},
      "mark": {"type": "text", "align": "left", "baseline": "middle", "dy": -43, "font": "Liberation Sans", "fontSize": 12, "color": "#0000ff"},
      "encoding": {"x": {"datum": 19.3}, "y": {"datum": "SFCL"}, "text": {"field": "t"}}
    },
    {
      "data": {"values": [{"t": "Hora UTC:\u00a0\u00a0\u00a0\u00a021:59 a 22:59"}]},
      "mark": {"type": "text", "align": "right", "baseline": "middle", "dy": -43, "font": "Liberation Sans", "fontSize": 12, "color": "#0000ff"},
      "encoding": {"x": {"datum": 79.35}, "y": {"datum": "SFCL"}, "text": {"field": "t"}}
    },
    {
      "data": {"values": [{"t": "Gal"}]},
      "mark": {"type": "text", "align": "left", "baseline": "middle", "dy": -24, "font": "Liberation Sans", "fontSize": 12, "color": "#ff0000"},
      "encoding": {"x": {"datum": -12.26}, "y": {"datum": "SFCL"}, "text": {"field": "t"}}
    },
    {
      "data": {"values": [{"t": "Código"}]},
      "mark": {"type": "text", "align": "left", "baseline": "middle", "dy": -24, "font": "Liberation Sans", "fontSize": 12, "color": "#ff0000"},
      "encoding": {"x": {"datum": -7.61}, "y": {"datum": "SFCL"}, "text": {"field": "t"}}
    },
    {
      "data": {"values": [{"t": "Lugar"}]},
      "mark": {"type": "text", "align": "right", "baseline": "middle", "dy": -24, "font": "Liberation Sans", "fontSize": 12, "color": "#ff0000"},
      "encoding": {"x": {"datum": 71.25}, "y": {"datum": "SFCL"}, "text": {"field": "t"}}
    }
  ]
}
